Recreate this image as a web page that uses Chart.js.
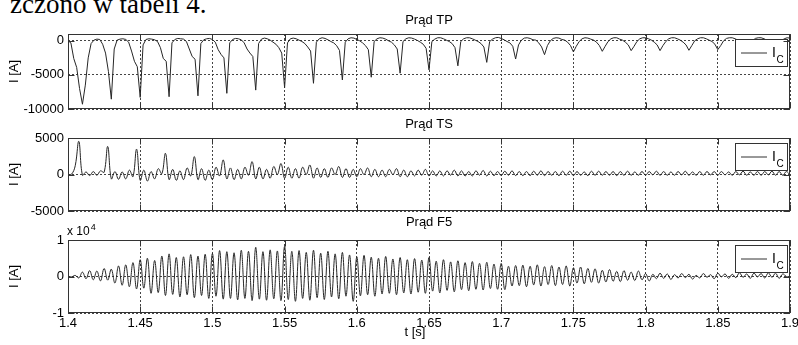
<!DOCTYPE html>
<html>
<head>
<meta charset="utf-8">
<script src="https://cdn.jsdelivr.net/npm/chart.js@4.4.1/dist/chart.umd.min.js"></script>
<style>
html, body { margin: 0; padding: 0; background: #fff; }
#wrap { position: relative; width: 798px; height: 345px; overflow: hidden; }
#wrap canvas { position: absolute; left: 0; }
#note { position: absolute; left: 10px; top: -9px; font: 27px/27px 'Liberation Serif', 'Times New Roman', serif; color: #000; white-space: nowrap; }
</style>
</head>
<body>
<div id="wrap">
  <div id="note">zczono w tabeli 4.</div>
  <canvas id="tpChart" style="top:0px" width="798" height="125"></canvas>
  <canvas id="tsChart" style="top:112px" width="798" height="113"></canvas>
  <canvas id="f5Chart" style="top:205px" width="798" height="140"></canvas>
</div>
<script>
// time axis (s)
const T0 = 1.4;
const xTicks = [1.4, 1.45, 1.5, 1.55, 1.6, 1.65, 1.7, 1.75, 1.8, 1.85, 1.9];

// Prąd TP, sampled every 2 ms from 1.4 s
const tpStep = 0.002;
const tpI = [
    0, -300, -2600, -3900, -7000,
    -9300, -6500, -2500, -400, 100, 250, 200, -500, -1800, -4500,
    -8560, -1200, 100, 250, 300, 200, -200, -1500, -3000, -3800,
    -8300, -600, 200, 300, 250, 150, -100, -1000, -2600, -3000,
    -8200, -300, 200, 350, 300, 250, -100, -1200, -2300, -2700,
    -8070, -400, 150, 300, 350, 200, -200, -1300, -2000, -2500,
    -7700, -300, 200, 350, 300, 150, -300, -1200, -1800, -2300,
    -7230, -400, 250, 400, 300, 100, -200, -500, -1000, -1800,
    -6880, -300, 300, 400, 300, 100, -100, -400, -900, -1500,
    -6230, -200, 300, 450, 350, 150, -100, -300, -700, -1400,
    -5740, -200, 300, 450, 400, 200, 0, -300, -700, -1300,
    -5340, -100, 300, 450, 400, 250, 0, -200, -600, -1200,
    -4750, -100, 300, 450, 400, 250, 50, -200, -500, -1100,
    -4260, -100, 250, 450, 450, 300, 100, -100, -400, -1000,
    -3670, -100, 300, 450, 450, 300, 100, -100, -400, -900,
    -3160, -100, 250, 450, 500, 350, 150, -100, -300, -800,
    -2670, -600, 100, 400, 450, 350, 150, 100, -300, -900,
    -2030, -700, 0, 350, 450, 400, 200, 100, -200, -700,
    -1630, -800, -100, 300, 450, 400, 250, 100, -200, -700,
    -1540, -800, -100, 300, 450, 450, 250, 100, -200, -600,
    -1440, -800, -100, 300, 450, 450, 300, 100, -200, -600,
    -1440, -700, -100, 300, 450, 450, 300, 100, -200, -600,
    -1390, -700, 0, 300, 450, 450, 300, 100, -100, -500,
    -1290, -700, 0, 350, 450, 450, 300, 100, -100, -500,
    -1250, -700, 0, 350, 450, 450, 300, 100, -100, -500,
    -1200, -600, 0, 300, 450, 400
];

// Prąd TS, peaks/troughs every 2.5 ms from 1.4 s
const tsStep = 0.0025;
const tsI = [
    0, 50, 1200,
    4540, -100, 350, -150, 400, -100, 500, 300,
    3840, -600, 400, -650, 350, -600, 600, -300,
    3470, -800, 600, -900, 400, -600, 800, 100,
    2900, -700, 700, -800, 500, -700, 900, -200,
    2450, -700, 800, -800, 600, -700, 1000, -200,
    2000, -600, 900, -700, 700, -600, 1000, -100,
    1760, -600, 1000, -600, 700, -500, 1100, 0,
    1500, -500, 1000, -500, 800, -500, 1000, 0,
    1300, -500, 900, -400, 800, -400, 900, 0,
    1100, -400, 800, -400, 700, -300, 800, 0,
    900, -300, 700, -300, 600, -300, 700, 0,
    800, -300, 600, -300, 500, -200, 600, -100,
    700, -200, 500, -200, 500, -200, 500, -100,
    600, -200, 500, -200, 400, -200, 500, -100,
    550, -200, 450, -150, 400, -150, 450, -100,
    500, -150, 400, -150, 400, -150, 450, -100,
    500, -150, 400, -100, 400, -150, 450, -100,
    450, -150, 400, -100, 350, -150, 450, -100,
    450, -100, 400, -100, 400, -150, 400, -100,
    450, -100, 350, -100, 400, -100, 400, -50,
    450, -100, 400, -100, 350, -100, 400, -50,
    450, -100, 350, -100, 400, -100, 400, -50,
    400, -100, 400, -50, 350, -100, 400, -50,
    450, -100, 350, -100, 400, -100, 400, -50,
    450, -100, 400, -100, 400, -50
];

// Prąd F5, peaks/troughs every 2.5 ms from 1.4 s
const f5Step = 0.0025;
const f5I = [
    0, -100, 300, -400, 1200, -600, 1600, -900,
    1500, -1200, 2200, -1000, 2000, -1800, 2900, -2400,
    3200, -2800, 3800, -3400, 4600, -3200, 5000, -4600,
    4400, -4400, 5600, -5200, 6200, -4900, 5200, -5600,
    5400, -5000, 6000, -5800, 5600, -5200, 6100, -6000,
    6300, -5400, 7100, -6200, 6800, -6000, 6500, -6400,
    7200, -6000, 6900, -6600, 8000, -6200, 6800, -6500,
    7300, -6100, 7000, -6600, 8300, -6300, 6900, -6800,
    7100, -6000, 6600, -6500, 7200, -5800, 6400, -6300,
    6900, -5600, 6200, -6100, 6600, -5400, 5900, -6800,
    5400, -5300, 5800, -5000, 5300, -5400, 5000, -4800,
    5500, -4600, 4800, -5000, 5200, -4500, 4600, -4800,
    4900, -4300, 4500, -4600, 5200, -4000, 4200, -4500,
    4600, -3800, 4000, -4200, 4300, -3600, 3800, -3900,
    4100, -3500, 3600, -3700, 3900, -3300, 3400, -3500,
    3600, -3600, 2800, -2600, 3000, -2500, 3100, -2800,
    2800, -2300, 3200, -2600, 2700, -2200, 3000, -2500,
    2600, -2200, 2900, -2600, 2400, -1800, 2600, -2000,
    2200, -1600, 2100, -1800, 1700, -1500, 1900, -1300,
    1400, -1400, 1600, -1000, 1200, -1100, 1500, -900,
    800, -1200, 600, -600, 900, -500, 700, -800,
    500, -400, 800, -300, 600, -700, 300, -400,
    800, -200, 500, -600, 900, -100, 700, -500,
    600, -300, 1000, -200, 700, -500, 900, -100,
    800, -400, 1000, -200, 900, -500, 700, 0,
    -300
];

const tpTicks = [-10000, -5000, 0];
const tsTicks = [-5000, 0, 5000];
const f5Ticks = [-10000, 0, 10000];

Chart.defaults.font.family = "'Liberation Sans', Arial, sans-serif";
Chart.defaults.font.size = 13;
Chart.defaults.color = '#000';

// frame, inward ticks, boxed legend and the little extra labels, MATLAB style
const matlabAxes = {
    id: 'matlabAxes',
    afterDatasetsDraw(chart, args, opts) {
        const {ctx, chartArea: a, scales: {x, y}} = chart;
        ctx.save();

        // legend box
        const bx = Math.round(a.right) - 55, by = Math.round(a.top) + 5;
        ctx.fillStyle = '#fff';
        ctx.fillRect(bx, by, 52, 27);
        ctx.strokeStyle = '#333';
        ctx.lineWidth = 1;
        ctx.strokeRect(bx + 0.5, by + 0.5, 52, 27);
        ctx.beginPath();
        ctx.moveTo(bx + 6, by + 14);
        ctx.lineTo(bx + 32, by + 14);
        ctx.stroke();
        ctx.fillStyle = '#000';
        ctx.textAlign = 'left';
        ctx.textBaseline = 'alphabetic';
        ctx.font = "14px 'Liberation Sans', Arial, sans-serif";
        ctx.fillText(opts.label[0], bx + 37, by + 18);
        ctx.font = "10px 'Liberation Sans', Arial, sans-serif";
        ctx.fillText(opts.label[1], bx + 41.5, by + 23.5);

        // axes box
        const l = Math.round(a.left) + 0.5, t = Math.round(a.top) + 0.5;
        const r = Math.round(a.right) - 0.5, b = Math.round(a.bottom) - 0.5;
        ctx.strokeStyle = '#333';
        ctx.strokeRect(l, t, r - l, b - t);

        // inward tick marks
        ctx.beginPath();
        x.ticks.forEach(tk => {
            const px = Math.round(x.getPixelForValue(tk.value)) + 0.5;
            ctx.moveTo(px, t); ctx.lineTo(px, t + 6);
            ctx.moveTo(px, b); ctx.lineTo(px, b - 6);
        });
        y.ticks.forEach(tk => {
            const py = Math.round(y.getPixelForValue(tk.value)) + 0.5;
            ctx.moveTo(l, py); ctx.lineTo(l + 6, py);
            ctx.moveTo(r, py); ctx.lineTo(r - 6, py);
        });
        ctx.stroke();

        if (opts.exponent) {
            ctx.font = "12px 'Liberation Sans', Arial, sans-serif";
            ctx.fillText('x 10', a.left - 1, a.top - 5);
            const w = ctx.measureText('x 10').width;
            ctx.font = "9px 'Liberation Sans', Arial, sans-serif";
            ctx.fillText('4', a.left - 1 + w + 1, a.top - 10);
        }
        if (opts.xLabel) {
            ctx.font = "13px 'Liberation Sans', Arial, sans-serif";
            ctx.textAlign = 'center';
            ctx.textBaseline = 'middle';
            ctx.fillText(opts.xLabel, (a.left + a.right) / 2 - 14, a.bottom + 19.5);
        }
        ctx.restore();
    }
};

function buildPoints(values, step) {
    return values.map((v, i) => ({x: T0 + i * step, y: v}));
}

function makeChart(canvasId, cfg) {
    return new Chart(document.getElementById(canvasId), {
        type: 'line',
        data: {
            datasets: [{
                label: 'IC',
                data: buildPoints(cfg.values, cfg.step),
                borderColor: '#262626',
                borderWidth: 1,
                pointRadius: 0,
                tension: cfg.tension,
                fill: false
            }]
        },
        plugins: [matlabAxes],
        options: {
            responsive: false,
            animation: false,
            events: [],
            layout: { padding: { top: 0, right: 8, bottom: cfg.padBottom, left: 0 } },
            plugins: {
                legend: { display: false },
                tooltip: { enabled: false },
                title: {
                    display: true,
                    fullSize: false,
                    text: cfg.title,
                    color: '#000',
                    font: { size: 13, weight: 'normal' },
                    padding: cfg.titlePad
                },
                matlabAxes: { label: ['I', 'C'], exponent: cfg.exponent, xLabel: cfg.xLabel }
            },
            scales: {
                x: {
                    type: 'linear',
                    min: 1.4,
                    max: 1.9,
                    afterBuildTicks: s => { s.ticks = xTicks.map(v => ({value: v})); },
                    afterFit: s => { s.height = cfg.xAxisH; s.paddingLeft = 0; s.paddingRight = 0; },
                    grid: { color: '#444', lineWidth: 1, drawTicks: false },
                    border: { display: false, dash: [2, 2] },
                    ticks: {
                        display: cfg.showX,
                        padding: 3,
                        maxRotation: 0,
                        autoSkip: false,
                        callback: v => String(+v.toFixed(2))
                    }
                },
                y: {
                    type: 'linear',
                    min: cfg.yMin,
                    max: cfg.yMax,
                    afterBuildTicks: s => { s.ticks = cfg.yTicks.map(v => ({value: v})); },
                    afterFit: s => { s.width = 68; s.paddingTop = 0; s.paddingBottom = 0; },
                    grid: { color: '#444', lineWidth: 1, drawTicks: false },
                    border: { display: false, dash: [2, 2] },
                    ticks: { padding: 4, callback: cfg.yFmt },
                    title: {
                        display: true,
                        text: 'I [A]',
                        color: '#000',
                        font: { size: 13 },
                        padding: { top: 7, bottom: 0 }
                    }
                }
            }
        }
    });
}

makeChart('tpChart', {
    values: tpI, step: tpStep, tension: 0,
    title: 'Prąd TP', titlePad: { top: 12.2, bottom: 6.2 },
    padBottom: 13, xAxisH: 3, showX: false,
    yMin: -10000, yMax: 1000, yTicks: tpTicks, yFmt: v => String(v)
});

makeChart('tsChart', {
    values: tsI, step: tsStep, tension: 0.4,
    title: 'Prąd TS', titlePad: { top: 4.7, bottom: 5.7 },
    padBottom: 11, xAxisH: 3, showX: false,
    yMin: -5000, yMax: 5000, yTicks: tsTicks, yFmt: v => String(v)
});

makeChart('f5Chart', {
    values: f5I, step: f5Step, tension: 0.4,
    title: 'Prąd F5', titlePad: { top: 9.7, bottom: 9.7 },
    padBottom: 0, xAxisH: 32, showX: true,
    yMin: -10000, yMax: 10000, yTicks: f5Ticks, yFmt: v => String(v / 10000),
    exponent: true, xLabel: 't [s]'
});
</script>
</body>
</html>
